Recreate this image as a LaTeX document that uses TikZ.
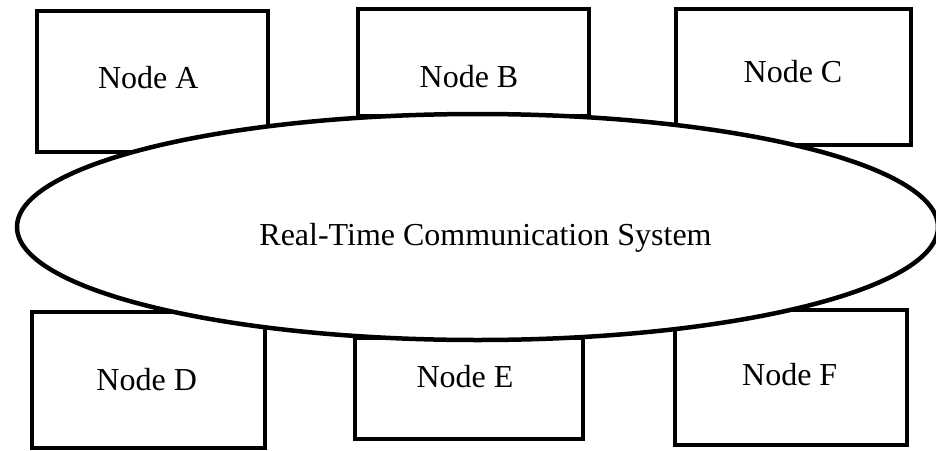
\documentclass[tikz,border=0pt]{standalone}
\usepackage{fontspec}
\setmainfont{Liberation Serif}
\usetikzlibrary{shapes.geometric}

\tikzset{
  nodebox/.style={draw=black, line width=4pt, inner sep=0pt, fill=white},
  boxlabel/.style={anchor=base, inner sep=0pt, font=\fontsize{32}{38}\selectfont},
  bus/.style={ellipse, draw=black, line width=4.5pt, fill=white, inner sep=0pt}
}

\begin{document}
\begin{tikzpicture}[x=1pt, y=-1pt]
  \useasboundingbox (0,0) rectangle (936,450);

  % upper row of nodes
  \node[nodebox, minimum width=230.8pt, minimum height=141.3pt] (boxA) at (152.1,81.35) {};
  \node[nodebox, minimum width=231.5pt, minimum height=107pt]   (boxB) at (473.25,62.5) {};
  \node[nodebox, minimum width=235pt,   minimum height=136pt]   (boxC) at (793.5,77) {};

  % lower row of nodes
  \node[nodebox, minimum width=233.3pt, minimum height=136pt]   (boxD) at (148.35,379.7) {};
  \node[nodebox, minimum width=228pt,   minimum height=101pt]   (boxE) at (469,388.5) {};
  \node[nodebox, minimum width=232pt,   minimum height=135pt]   (boxF) at (791,377.5) {};

  % shared communication system, laid over the node boxes
  \node[bus, minimum width=921pt, minimum height=226pt] (rtcs) at (477.5,227) {};

  % labels
  \node[boxlabel] (labA) at (148.3,88)  {Node A};
  \node[boxlabel] (labB) at (469,87)    {Node B};
  \node[boxlabel] (labC) at (793,82)    {Node C};
  \node[boxlabel] (labD) at (146.7,390) {Node D};
  \node[boxlabel] (labE) at (465,387)   {Node E};
  \node[boxlabel] (labF) at (789.7,385) {Node F};
  \node[boxlabel] (labSys) at (485.5,245) {Real-Time Communication System};
\end{tikzpicture}
\end{document}
